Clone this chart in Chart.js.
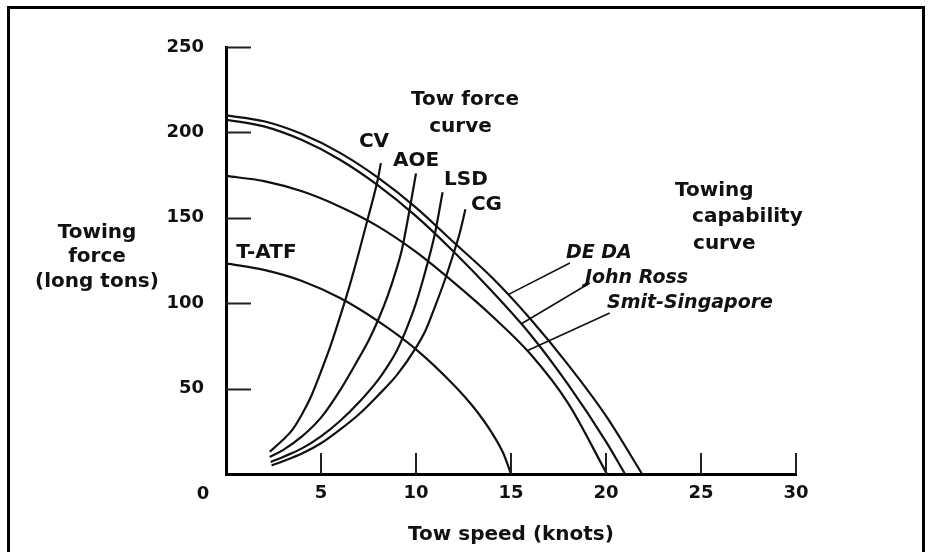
<!DOCTYPE html>
<html>
<head>
<meta charset="utf-8">
<script src="https://cdn.jsdelivr.net/npm/chart.js@4/dist/chart.umd.min.js"></script>
<style>
  body { margin: 0; background: #fff; }
  canvas { display: block; }
</style>
</head>
<body>
<canvas id="chart" width="935" height="552"></canvas>
<script>
// tick labels
const speedTicks = [0, 5, 10, 15, 20, 25, 30];
const forceTicks = [0, 50, 100, 150, 200, 250];

// towing capability curves (knots -> long tons)
const dedaSpeed = [0, 2, 4, 6, 8, 10, 12, 14, 16, 18, 20, 21.9];
const dedaForce = [210, 206.5, 199, 188, 173.5, 156, 135.5, 115, 91, 64, 34, 0];
const rossSpeed = [0, 2, 4, 6, 8, 10, 12, 14, 16, 18, 20, 21];
const rossForce = [207.5, 203.5, 195.5, 184, 169, 151, 130, 107, 82, 52.5, 19, 0];
const smitSpeed = [0, 2, 4, 6, 8, 10, 12, 14, 16, 18, 20.05];
const smitForce = [174.5, 171.5, 165.5, 156.5, 145, 130, 112, 92.5, 70.5, 41.5, 0];
const tatfSpeed = [0, 2, 4, 6, 8, 10, 12, 13, 14, 14.6, 15];
const tatfForce = [123.3, 119.5, 113, 103, 89.5, 73, 52, 39.5, 24, 12, 0];

// tow force curves
const cvSpeed = [2.3, 3, 3.5, 4, 4.5, 5, 5.5, 6, 6.5, 7, 7.5, 8, 8.15];
const cvForce = [13, 20, 26, 35, 46, 60, 75, 92, 110, 130, 151, 173, 182];
const aoeSpeed = [2.3, 3, 4, 5, 6, 7, 7.5, 8, 8.5, 9, 9.25, 9.65, 10];
const aoeForce = [10, 14, 22, 33, 49, 68, 78, 90, 104, 121, 131, 154, 176];
const lsdSpeed = [2.35, 3, 4, 5, 6, 7, 8, 8.5, 9, 9.5, 10, 10.5, 11, 11.4];
const lsdForce = [7, 10, 15, 22, 31, 42, 55, 63, 72.5, 85, 100, 119, 141, 165];
const cgSpeed = [2.4, 3, 4, 5, 6, 7, 8, 9, 10, 10.5, 11, 11.5, 12, 12.3, 12.6];
const cgForce = [5, 7.5, 12, 18, 26, 35, 46, 58, 74, 84, 98, 113, 130, 141, 155];

// leader lines from the italic names to their curves
const dedaLeaderSpeed = [14.85, 18.1];
const dedaLeaderForce = [105, 123.5];
const rossLeaderSpeed = [15.55, 19.15];
const rossLeaderForce = [88, 111.8];
const smitLeaderSpeed = [15.85, 20.2];
const smitLeaderForce = [72.2, 94.3];

const FONT = '"DejaVu Sans", "Liberation Sans", sans-serif';
const INK = '#111';

function pts(xs, ys) {
  return xs.map((v, i) => ({x: v, y: ys[i]}));
}

function curve(label, xs, ys, leader = false) {
  return {
    label,
    data: pts(xs, ys),
    showLine: true,
    borderColor: INK,
    borderWidth: leader ? 1.6 : 2.2,
    pointRadius: 0,
    fill: false,
    cubicInterpolationMode: leader ? 'default' : 'monotone',
    tension: 0
  };
}

// text placed in data units: [text, speed, force, align, italic]
const notes = [
  ['CV', 7.79, 191.5, 'center', false],
  ['AOE', 10.0, 180.6, 'center', false],
  ['LSD', 12.63, 169.2, 'center', false],
  ['CG', 13.71, 154.6, 'center', false],
  ['T-ATF', 2.13, 126.5, 'center', false],
  ['Tow force', 12.58, 216.0, 'center', false],
  ['curve', 12.34, 200.5, 'center', false],
  ['Towing', 23.63, 162.8, 'left', false],
  ['capability', 24.53, 147.5, 'left', false],
  ['curve', 24.58, 131.7, 'left', false],
  ['DE DA', 17.89, 126.5, 'left', true],
  ['John Ross', 18.89, 111.8, 'left', true],
  ['Smit-Singapore', 20.05, 97.2, 'left', true]
];

const overlay = {
  id: 'overlay',
  afterDraw(chart) {
    const {ctx, chartArea, scales: {x, y}} = chart;
    ctx.save();

    // frame round the figure
    ctx.strokeStyle = '#000';
    ctx.lineWidth = 3;
    ctx.beginPath();
    ctx.moveTo(8.5, 552);
    ctx.lineTo(8.5, 7.5);
    ctx.lineTo(923.5, 7.5);
    ctx.lineTo(923.5, 552);
    ctx.stroke();

    // tick marks pointing into the plot
    ctx.strokeStyle = '#222';
    ctx.lineWidth = 2;
    ctx.beginPath();
    y.ticks.forEach(t => {
      if (t.value === 0) return;
      const py = Math.round(y.getPixelForValue(t.value)) + 0.5;
      ctx.moveTo(chartArea.left, py);
      ctx.lineTo(chartArea.left + 25, py);
    });
    x.ticks.forEach(t => {
      if (t.value === 0) return;
      const px = Math.round(x.getPixelForValue(t.value));
      ctx.moveTo(px, chartArea.bottom);
      ctx.lineTo(px, chartArea.bottom - 21);
    });
    ctx.stroke();

    ctx.fillStyle = INK;

    // shared origin label
    ctx.font = 'bold 18px ' + FONT;
    ctx.textAlign = 'center';
    ctx.textBaseline = 'middle';
    ctx.fillText('0', chartArea.left - 23, chartArea.bottom + 20);

    // y axis title, three lines
    ctx.font = 'bold 20px ' + FONT;
    ctx.textBaseline = 'alphabetic';
    const tx = chartArea.left - 129;
    ctx.fillText('Towing', tx, chartArea.top + 191);
    ctx.fillText('force', tx, chartArea.top + 215);
    ctx.fillText('(long tons)', tx, chartArea.top + 240);

    notes.forEach(([text, v, f, align, italic]) => {
      ctx.font = italic ? 'italic bold 19px ' + FONT : 'bold 20px ' + FONT;
      ctx.textAlign = align;
      ctx.fillText(text, x.getPixelForValue(v), y.getPixelForValue(f));
    });

    ctx.restore();
  }
};

new Chart(document.getElementById('chart').getContext('2d'), {
  type: 'scatter',
  data: {
    datasets: [
      curve('DE DA', dedaSpeed, dedaForce),
      curve('John Ross', rossSpeed, rossForce),
      curve('Smit-Singapore', smitSpeed, smitForce),
      curve('T-ATF', tatfSpeed, tatfForce),
      curve('CV', cvSpeed, cvForce),
      curve('AOE', aoeSpeed, aoeForce),
      curve('LSD', lsdSpeed, lsdForce),
      curve('CG', cgSpeed, cgForce),
      curve('DE DA leader', dedaLeaderSpeed, dedaLeaderForce, true),
      curve('John Ross leader', rossLeaderSpeed, rossLeaderForce, true),
      curve('Smit leader', smitLeaderSpeed, smitLeaderForce, true)
    ]
  },
  options: {
    responsive: false,
    devicePixelRatio: 1,
    animation: false,
    layout: {padding: {left: 0, top: 47, right: 139, bottom: 0}},
    plugins: {
      legend: {display: false},
      tooltip: {enabled: false}
    },
    scales: {
      x: {
        type: 'linear',
        min: speedTicks[0],
        max: speedTicks[speedTicks.length - 1],
        afterBuildTicks: s => { s.ticks = speedTicks.map(v => ({value: v})); },
        afterFit: s => { s.height = 78; },
        grid: {display: false, drawTicks: false},
        border: {display: true, width: 3, color: '#000'},
        ticks: {
          padding: 9,
          color: INK,
          font: {family: FONT, size: 18, weight: 'bold'},
          callback: v => (v === 0 ? '' : v)
        },
        title: {
          display: true,
          text: 'Tow speed (knots)',
          color: INK,
          font: {family: FONT, size: 20, weight: 'bold'},
          padding: {top: 0, bottom: 5}
        }
      },
      y: {
        type: 'linear',
        min: forceTicks[0],
        max: forceTicks[forceTicks.length - 1],
        afterBuildTicks: s => { s.ticks = forceTicks.map(v => ({value: v})); },
        afterFit: s => { s.width = 226; },
        grid: {display: false, drawTicks: false},
        border: {display: true, width: 3, color: '#000'},
        ticks: {
          padding: 22,
          color: INK,
          font: {family: FONT, size: 18, weight: 'bold'},
          callback: v => (v === 0 ? '' : v)
        }
      }
    }
  },
  plugins: [overlay]
});
</script>
</body>
</html>
